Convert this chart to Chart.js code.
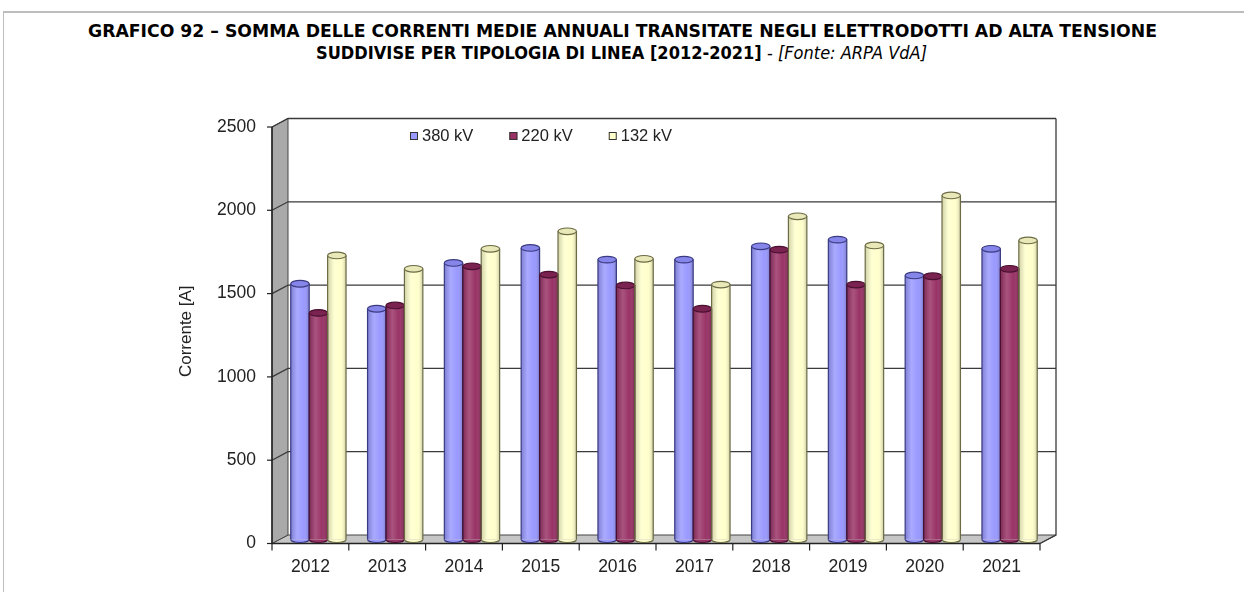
<!DOCTYPE html>
<html><head><meta charset="utf-8">
<script src="https://cdn.jsdelivr.net/npm/chart.js@4.4.0/dist/chart.umd.min.js"></script>
<style>
html,body{margin:0;padding:0;background:#fff;width:1244px;height:592px;overflow:hidden;position:relative;}
#frameTop{position:absolute;left:3px;top:11px;width:1241px;height:2px;background:#bdbdbd;}
#frameLeft{position:absolute;left:3px;top:11px;width:1px;height:581px;background:#bdbdbd;}
.tl{position:absolute;left:0;white-space:nowrap;font-family:"Liberation Sans Narrow","DejaVu Sans Condensed","Liberation Sans",sans-serif;font-size:18px;color:#000;transform-origin:0 50%;line-height:22px;}
#c{position:absolute;left:0;top:0;}
</style></head><body>
<div id="frameTop"></div><div id="frameLeft"></div>
<div class="tl" id="t1" style="top:20px"><b>GRAFICO 92 – SOMMA DELLE CORRENTI MEDIE ANNUALI TRANSITATE NEGLI ELETTRODOTTI AD ALTA TENSIONE</b></div>
<div class="tl" id="t2" style="top:42px"><b>SUDDIVISE PER TIPOLOGIA DI LINEA [2012-2021]</b> - <i>[Fonte: ARPA VdA]</i></div>
<canvas id="c" width="1244" height="592"></canvas>
<script>
const categories = ['2012','2013','2014','2015','2016','2017','2018','2019','2020','2021'];
const seriesLabels = ['380 kV','220 kV','132 kV'];
const values380 = [1535,1385,1660,1750,1680,1680,1760,1800,1585,1745];
const values220 = [1360,1405,1640,1590,1525,1385,1740,1530,1580,1625];
const values132 = [1705,1625,1745,1850,1685,1530,1940,1765,2065,1795];
const yTicks = [0,500,1000,1500,2000,2500];
const yTickLabels = ['0','500','1000','1500','2000','2500'];
const yTitle = 'Corrente [A]';

function fit(id,x0,x1){const el=document.getElementById(id);const w=el.getBoundingClientRect().width;el.style.left=x0+'px';el.style.transform='scaleX('+((x1-x0)/w)+')';}
fit('t1',88,1157);
fit('t2',316,927);

const fills=['#9999ff','#993366','#ffffcc'];
const edges=['#3a3a80','#4a1030','#6b6b45'];
const tops=['#8686ea','#7a2250','#e8e8b8'];
const D=8, UF=4, UB=4.5;

function poly(ctx,pts,fill,stroke){ctx.beginPath();pts.forEach((p,i)=>i?ctx.lineTo(p[0],p[1]):ctx.moveTo(p[0],p[1]));ctx.closePath();ctx.fillStyle=fill;ctx.fill();ctx.strokeStyle=stroke;ctx.lineWidth=1;ctx.stroke();}

const deco={
 id:'deco',
 beforeDatasetsDraw(chart){
  const {ctx,chartArea:{left:L,right:R,top:T,bottom:B},scales:{x,y}}=chart;
  ctx.save();
  ctx.fillStyle='#fff';ctx.fillRect(L+D,T-UB,R-L,B-T);
  poly(ctx,[[L-D,B+UF],[L+D,B-UB],[R+D,B-UB],[R-D,B+UF]],'#c6c6c6','#444');
  poly(ctx,[[L-D,T+UF],[L+D,T-UB],[L+D,B-UB],[L-D,B+UF]],'#a9a9a9','#444');
  ctx.strokeStyle='#3a3a3a';ctx.lineWidth=1.3;
  y.ticks.forEach(t=>{ if(t.value<=0) return; const yy=y.getPixelForValue(t.value);
    ctx.beginPath();ctx.moveTo(L-D,yy+UF);ctx.lineTo(L+D,yy-UB);ctx.lineTo(R+D,yy-UB);ctx.stroke();});
  ctx.beginPath();ctx.moveTo(R+D,T-UB);ctx.lineTo(R+D,B-UB);ctx.lineTo(R-D,B+UF);ctx.stroke();
  ctx.strokeStyle='#222';ctx.lineWidth=1.5;
  ctx.beginPath();ctx.moveTo(L-D,T+UF);ctx.lineTo(L-D,B+UF);ctx.lineTo(R-D,B+UF);ctx.stroke();
  ctx.lineWidth=1.2;
  y.ticks.forEach(t=>{const yy=y.getPixelForValue(t.value)+UF;ctx.beginPath();ctx.moveTo(L-D-5,yy);ctx.lineTo(L-D,yy);ctx.stroke();});
  const step=(R-L)/categories.length;
  for(let i=0;i<=categories.length;i++){const xx=L+i*step-D;ctx.beginPath();ctx.moveTo(xx,B+UF);ctx.lineTo(xx,B+UF+7);ctx.stroke();}
  ctx.restore();
 },
 afterDatasetsDraw(chart){
  const ctx=chart.ctx;
  ctx.save();
  chart.data.datasets.forEach((ds,di)=>{
   const meta=chart.getDatasetMeta(di);
   meta.data.forEach(bar=>{
    const p=bar.getProps(['x','y','base','width'],true);
    const l=p.x-p.width/2, r=p.x+p.width/2;
    const g=ctx.createLinearGradient(l,0,r,0);
    g.addColorStop(0,'rgba(0,0,0,0.18)');g.addColorStop(0.35,'rgba(255,255,255,0.16)');
    g.addColorStop(0.7,'rgba(255,255,255,0)');g.addColorStop(1,'rgba(0,0,0,0.22)');
    ctx.fillStyle=g;ctx.fillRect(l,p.y,p.width,p.base-p.y);
    ctx.strokeStyle=edges[di];ctx.lineWidth=1.2;
    ctx.beginPath();ctx.ellipse(p.x,p.base,p.width/2,3,0,0,Math.PI);ctx.fillStyle=fills[di];ctx.fill();ctx.stroke();
    ctx.beginPath();ctx.moveTo(l,p.y);ctx.lineTo(l,p.base);ctx.moveTo(r,p.y);ctx.lineTo(r,p.base);ctx.stroke();
    ctx.beginPath();ctx.ellipse(p.x,p.y,p.width/2,3.3,0,0,2*Math.PI);ctx.fillStyle=tops[di];ctx.fill();ctx.stroke();
   });
  });
  ctx.restore();
 },
 afterDraw(chart){
  const ctx=chart.ctx;ctx.save();
  ctx.font='16.5px "Liberation Sans", Arial, sans-serif';ctx.textBaseline='middle';
  let xx=410;const yy=136;
  chart.data.datasets.forEach((ds,di)=>{
   ctx.fillStyle=fills[di];ctx.fillRect(xx,yy-4,8,8);ctx.strokeStyle='#333';ctx.lineWidth=1;ctx.strokeRect(xx+0.5,yy-3.5,7,7);
   ctx.fillStyle='#222';ctx.fillText(ds.label,xx+12,yy);
   xx+=12+ctx.measureText(ds.label).width+36;
  });
  ctx.restore();
 }
};

new Chart(document.getElementById('c'),{
 type:'bar',
 data:{labels:categories,datasets:[
  {label:seriesLabels[0],data:values380,backgroundColor:fills[0],borderWidth:0,categoryPercentage:0.72,barPercentage:1},
  {label:seriesLabels[1],data:values220,backgroundColor:fills[1],borderWidth:0,categoryPercentage:0.72,barPercentage:1},
  {label:seriesLabels[2],data:values132,backgroundColor:fills[2],borderWidth:0,categoryPercentage:0.72,barPercentage:1}
 ]},
 options:{
  responsive:false,animation:false,devicePixelRatio:1,
  layout:{padding:{left:170,top:123,right:196,bottom:0}},
  plugins:{legend:{display:false},tooltip:{enabled:false},title:{display:false}},
  scales:{
   x:{grid:{display:false,drawTicks:false},border:{display:false},
      ticks:{padding:17,labelOffset:-8,color:'#222',maxRotation:0,font:{family:'"Liberation Sans", Arial, sans-serif',size:17.5}},
      afterFit(s){s.height=52.5;}},
   y:{min:0,max:2500,grid:{display:false,drawTicks:false},border:{display:false},
      afterBuildTicks(s){s.ticks=yTicks.map(v=>({value:v}));},
      ticks:{padding:24,labelOffset:4,color:'#222',font:{family:'"Liberation Sans", Arial, sans-serif',size:17.5},
        callback:(v)=>yTickLabels[yTicks.indexOf(v)]},
      title:{display:true,text:yTitle,color:'#222',padding:{top:6.6,bottom:0},font:{family:'"Liberation Sans", Arial, sans-serif',size:17}},
      afterFit(s){s.width=110;}}
  }
 },
 plugins:[deco]
});
</script>
</body></html>
